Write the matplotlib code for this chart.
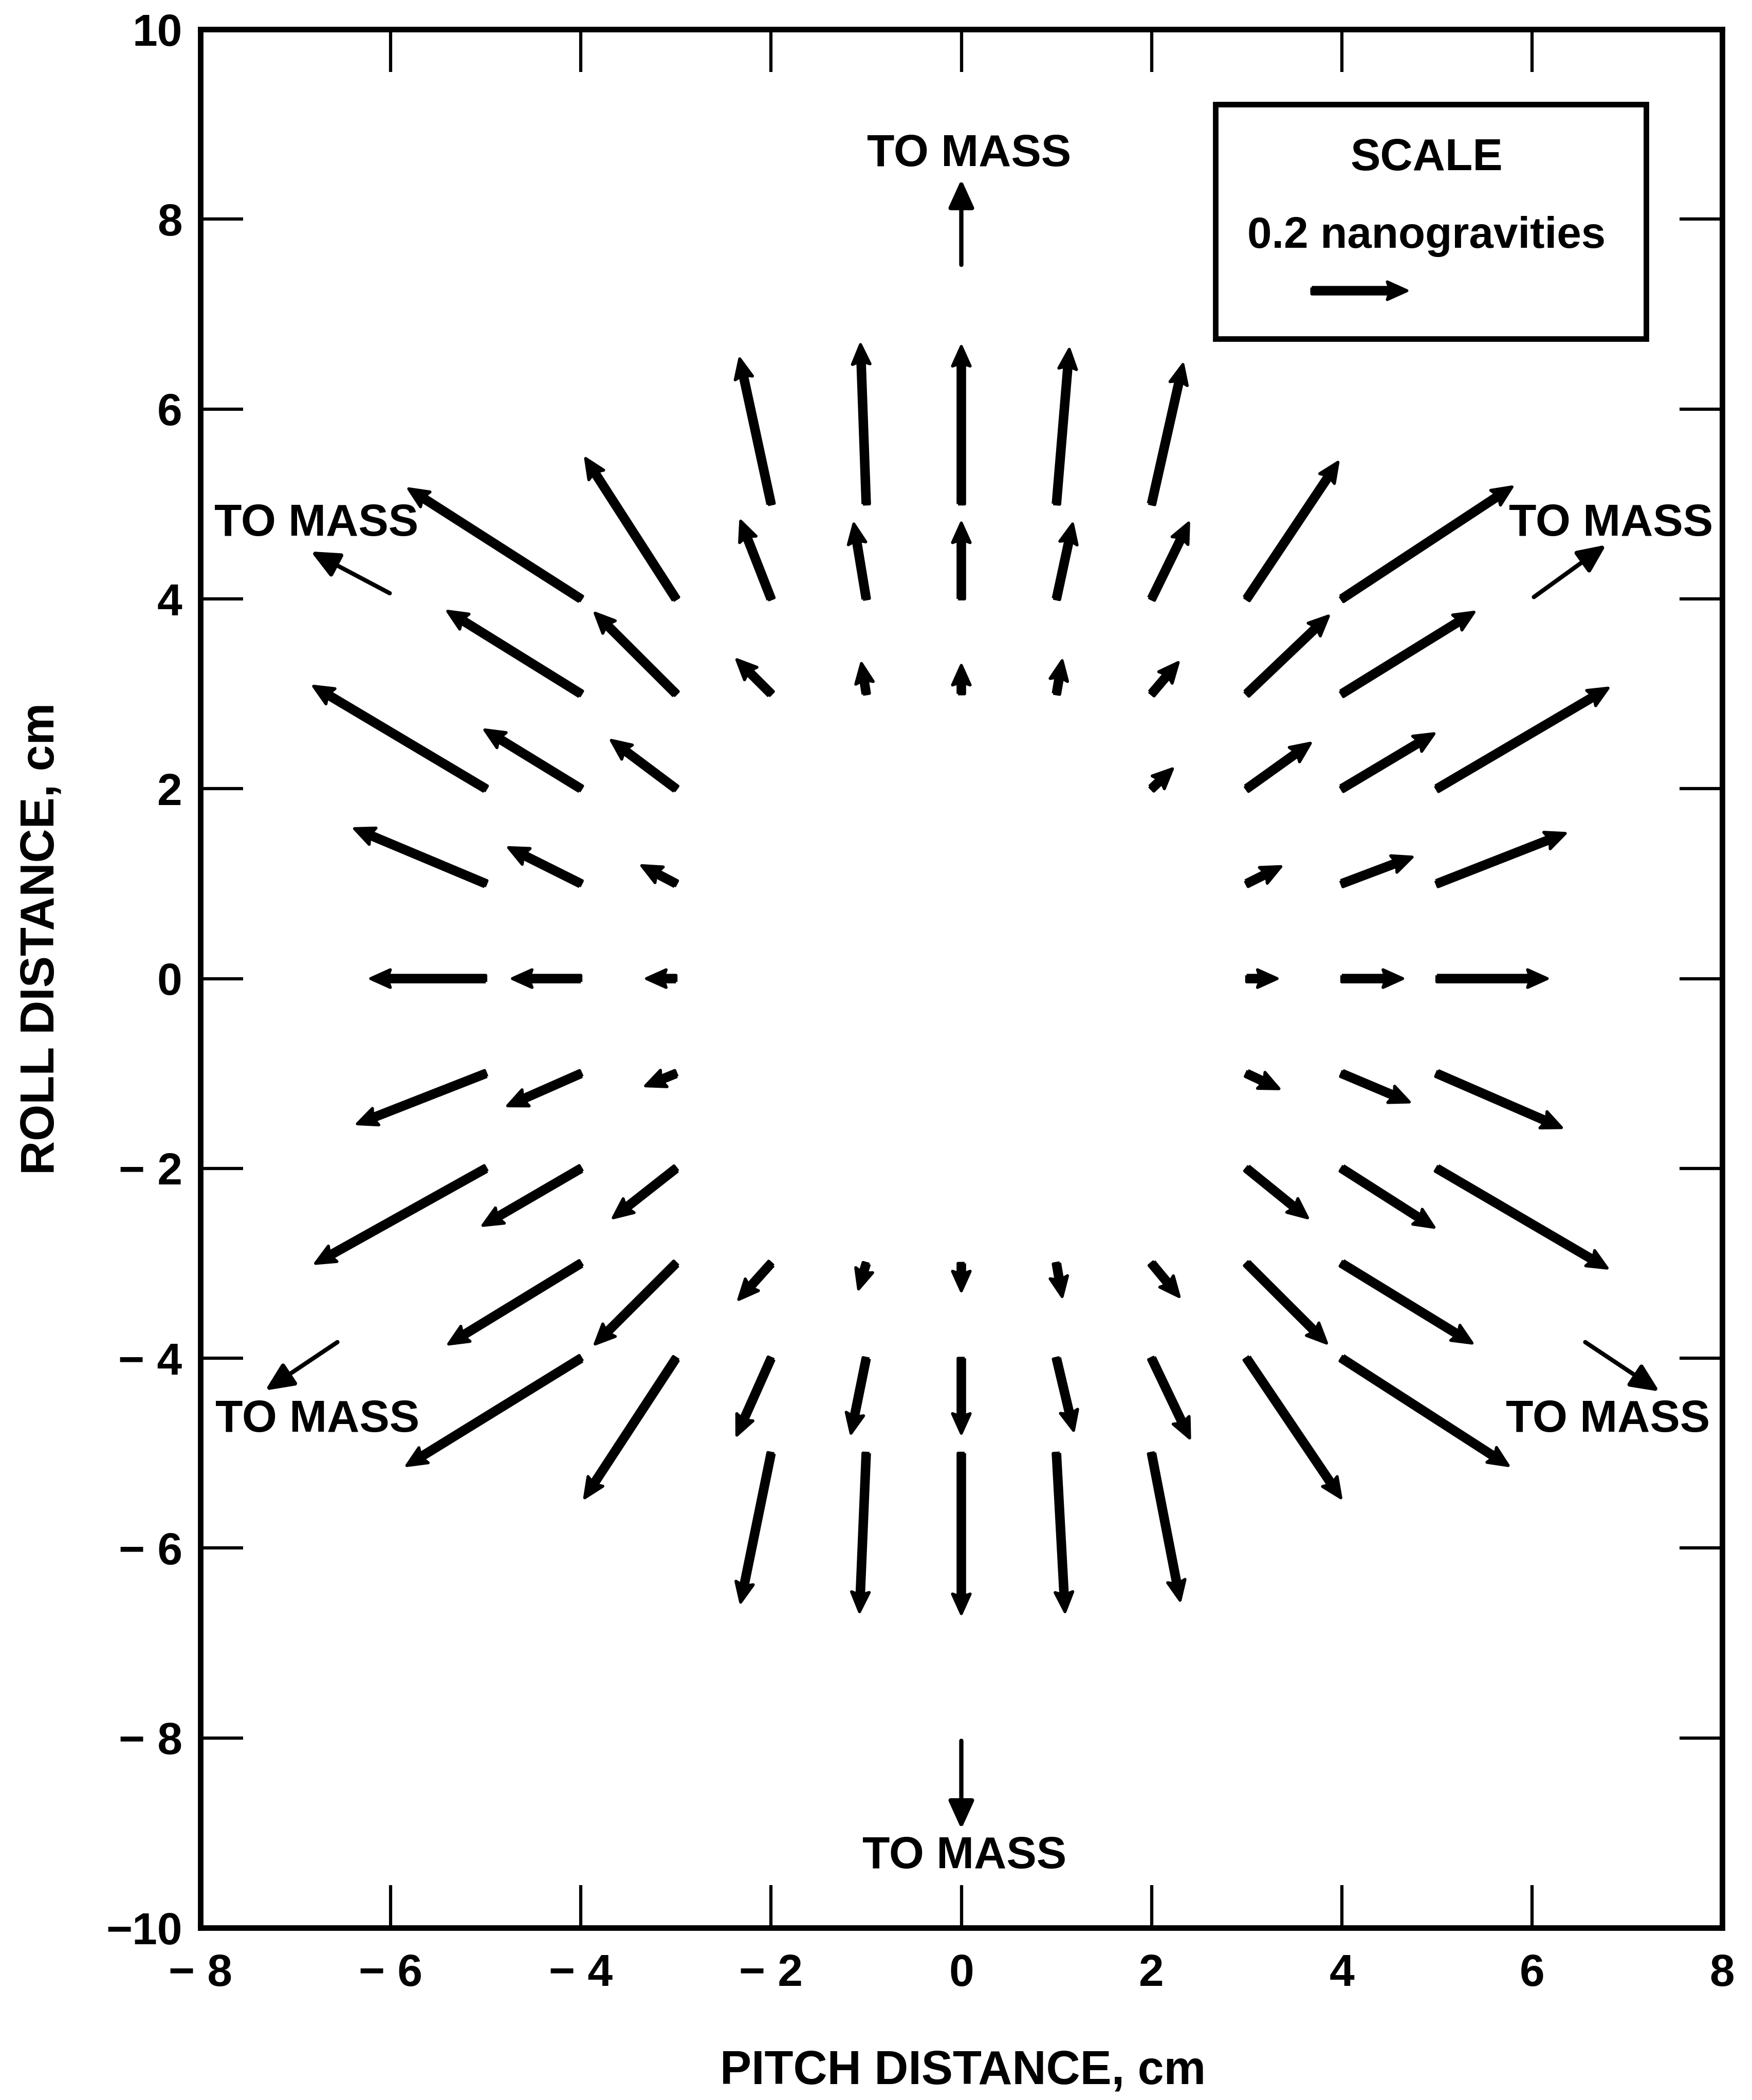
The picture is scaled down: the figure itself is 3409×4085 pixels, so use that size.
import matplotlib
matplotlib.use("Agg")
import matplotlib.pyplot as plt
from matplotlib.patches import Rectangle

# ---------------- data (grid positions in cm, accelerations in nanogravities) -------------
pitch_cm = [-2, -1, 0, 1, 2,
            -2, -1, 0, 1, 2,
            -2, -1, 0, 1, 2,
            2,
            -4, -3, 3, 4,
            -4, -3, 3, 4,
            -5, -4, -3, 3, 4, 5,
            -5, -4, -3, 3, 4, 5,
            -5, -4, -3, 3, 4, 5,
            -5, -4, -3, 3, 4, 5,
            -5, -4, -3, 3, 4, 5,
            -4, -3, 3, 4,
            -4, -3, 3, 4,
            -2, -1, 0, 1, 2,
            -2, -1, 0, 1, 2,
            -2, -1, 0, 1, 2]
roll_cm = [5, 5, 5, 5, 5,
           4, 4, 4, 4, 4,
           3, 3, 3, 3, 3,
           2,
           4, 4, 4, 4,
           3, 3, 3, 3,
           2, 2, 2, 2, 2, 2,
           1, 1, 1, 1, 1, 1,
           0, 0, 0, 0, 0, 0,
           -1, -1, -1, -1, -1, -1,
           -2, -2, -2, -2, -2, -2,
           -3, -3, -3, -3,
           -4, -4, -4, -4,
           -3, -3, -3, -3, -3,
           -4, -4, -4, -4, -4,
           -5, -5, -5, -5, -5]
accel_pitch_ng = [-0.066, -0.012, 0.000, 0.027, 0.066,
                  -0.064, -0.026, 0.000, 0.034, 0.078,
                  -0.072, -0.010, 0.000, 0.012, 0.056,
                  0.044,
                  -0.362, -0.190, 0.192, 0.358,
                  -0.280, -0.170, 0.172, 0.278,
                  -0.362, -0.202, -0.136, 0.134, 0.194, 0.360,
                  -0.276, -0.152, -0.072, 0.072, 0.148, 0.270,
                  -0.242, -0.144, -0.062, 0.064, 0.128, 0.232,
                  -0.270, -0.154, -0.064, 0.068, 0.142, 0.262,
                  -0.358, -0.206, -0.132, 0.128, 0.194, 0.358,
                  -0.278, -0.170, 0.168, 0.274,
                  -0.366, -0.192, 0.198, 0.350,
                  -0.068, -0.016, 0.000, 0.012, 0.058,
                  -0.072, -0.032, 0.000, 0.036, 0.080,
                  -0.064, -0.014, 0.000, 0.018, 0.060]
accel_roll_ng = [0.306, 0.336, 0.332, 0.326, 0.294,
                 0.164, 0.158, 0.160, 0.158, 0.160,
                 0.072, 0.064, 0.060, 0.070, 0.066,
                 0.042,
                 0.232, 0.296, 0.288, 0.236,
                 0.174, 0.170, 0.164, 0.172,
                 0.216, 0.124, 0.102, 0.096, 0.116, 0.212,
                 0.116, 0.076, 0.038, 0.036, 0.056, 0.106,
                 0.000, 0.000, 0.000, 0.000, 0.000, 0.000,
                 -0.106, -0.068, -0.026, -0.032, -0.060, -0.114,
                 -0.200, -0.120, -0.104, -0.104, -0.124, -0.210,
                 -0.170, -0.170, -0.168, -0.168,
                 -0.226, -0.294, -0.294, -0.226,
                 -0.076, -0.054, -0.058, -0.070, -0.070,
                 -0.162, -0.158, -0.158, -0.152, -0.168,
                 -0.314, -0.334, -0.338, -0.334, -0.310]

scale_ng = 0.2           # ng represented by 1 cm of arrow length
x_ticks = [-8, -6, -4, -2, 0, 2, 4, 6, 8]
y_ticks = [-10, -8, -6, -4, -2, 0, 2, 4, 6, 8, 10]

# "TO MASS" annotations: (tail, head, text position)
to_mass = [((0.0, 7.52), (0.0, 8.42), (0.08, 8.68)),
           ((0.0, -8.03), (0.0, -8.96), (0.03, -9.25)),
           ((-6.01, 4.06), (-6.84, 4.50), (-6.78, 4.79)),
           ((6.02, 4.02), (6.78, 4.57), (6.83, 4.79)),
           ((-6.56, -3.83), (-7.32, -4.34), (-6.77, -4.65)),
           ((6.56, -3.83), (7.34, -4.35), (6.80, -4.65))]

# ---------------- figure ----------------
FONT = ["Liberation Sans", "DejaVu Sans"]
plt.rcParams["font.family"] = FONT
plt.rcParams["font.weight"] = "bold"

fig = plt.figure(figsize=(3409 / 300, 4085 / 300), dpi=300)
ax = fig.add_axes([0.1144, 0.082, 0.983 - 0.1144, 0.986 - 0.082])
ax.set_xlim(-8, 8)
ax.set_ylim(-10, 10)

qkw = dict(angles="xy", scale_units="xy", scale=scale_ng, pivot="tail",
           color="black", edgecolor="black", linewidth=1.4,
           width=0.0043, headwidth=2.7, headlength=3.0, headaxislength=2.7,
           minshaft=0.5, minlength=0.1, zorder=3)
ax.quiver(pitch_cm, roll_cm, accel_pitch_ng, accel_roll_ng, **qkw)

# annotation arrows to the mass
for tail, head, tpos in to_mass:
    ax.annotate("", xy=head, xytext=tail,
                arrowprops=dict(arrowstyle="-|>,head_length=0.55,head_width=0.25",
                                lw=2.0, color="black", mutation_scale=20,
                                shrinkA=0, shrinkB=0))
    ax.text(tpos[0], tpos[1], "TO MASS", ha="center", va="center",
            fontsize=21, fontweight="bold")

# scale box
ax.add_patch(Rectangle((2.67, 6.74), 4.53, 2.47, fill=False, lw=2.6,
                       edgecolor="black", zorder=4))
ax.text(4.89, 8.64, "SCALE", ha="center", va="center", fontsize=21, fontweight="bold")
ax.text(4.89, 7.82, "0.2 nanogravities", ha="center", va="center", fontsize=20.5,
        fontweight="bold")
ax.quiver([3.68], [7.25], [scale_ng], [0.0], **qkw)

# axes styling
for s in ax.spines.values():
    s.set_linewidth(2.6)
ax.set_xticks(x_ticks)
ax.set_yticks(y_ticks)


def fmt(v):
    if v < 0:
        return "\u2212" + ("" if abs(v) >= 10 else " ") + str(abs(v))
    return str(v)


ax.set_xticklabels([fmt(v) for v in x_ticks])
ax.set_yticklabels([fmt(v) for v in y_ticks])
ax.tick_params(direction="in", length=20, width=1.5, top=True, right=True,
               labelsize=21)
ax.tick_params(axis="x", pad=12)
ax.tick_params(axis="y", pad=8.5)
for lab in ax.get_xticklabels() + ax.get_yticklabels():
    lab.set_fontweight("bold")

fig.text(0.5495, 0.0135, "PITCH DISTANCE, cm", ha="center", va="center",
         fontsize=22, fontweight="bold")
fig.text(0.0235, 0.553, "ROLL DISTANCE, cm", ha="center", va="center",
         rotation=90, fontsize=22, fontweight="bold")

fig.savefig("out.png", dpi=300, facecolor="white")
